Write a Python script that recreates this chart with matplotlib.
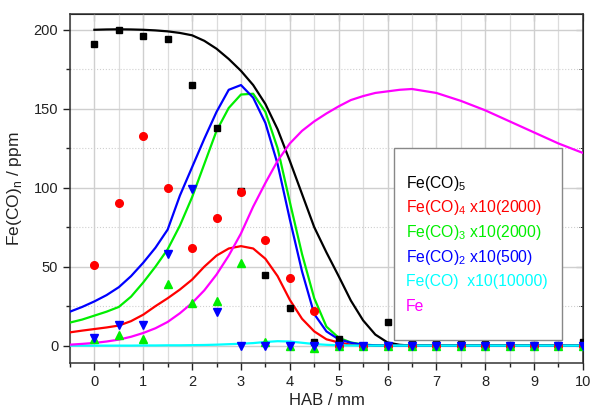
import numpy as np
import matplotlib
matplotlib.use("Agg")
import matplotlib.pyplot as plt
from matplotlib.patches import Rectangle
from matplotlib.ticker import MultipleLocator

plt.rcParams['font.family'] = ['Liberation Sans', 'DejaVu Sans']
plt.rcParams['mathtext.fontset'] = 'custom'
plt.rcParams['mathtext.rm'] = 'Liberation Sans'

# measured points (HAB in mm)
x_pts = [0, 0.5, 1, 1.5, 2, 2.5, 3, 3.5, 4, 4.5, 5, 5.5, 6, 6.5, 7, 7.5, 8, 8.5, 9, 9.5, 10]
fe5_pts = [191, 200, 196, 194, 165, 138, 98, 45, 24, 2, 4, 0, 15, 2, 2, 1, 1, 0.5, 0.5, 0.5, 2]
fe4_pts = [51, 90, 133, 100, 62, 81, 97, 67, 43, 22, 0, 0, 0, 0, 0, 0, 0, 0, 0, 0, 0]
fe3_pts = [4, 7, 4.5, 39, 27, 28, 52, 2, 0, -1.5, 0, 0, 0, 0, 0, 0, 0, 0, 0, 0, 0]
fe2_pts = [5, 13, 13, 58, 99, 21, 0, 0, 0, 0, 0, 0, 0, 0, 0, 0, 0, 0, 0, 0, 0]

# simulated curves
x_sim = [-0.5, -0.25, 0, 0.25, 0.5, 0.75, 1, 1.25, 1.5, 1.75, 2, 2.25, 2.5, 2.75, 3,
         3.25, 3.5, 3.75, 4, 4.25, 4.5, 4.75, 5, 5.25, 5.5, 5.75, 6, 6.25, 6.5,
         7, 7.5, 8, 8.5, 9, 9.5, 10]
fe5_sim = [np.nan, np.nan, 200, 200.2, 200.3, 200.2, 200, 199.6, 199, 198, 196.5, 193, 188, 181.5, 174,
           165, 153, 137, 117, 96, 75, 59, 44, 28.5, 16, 7, 2, 0.5, 0,
           0, 0, 0, 0, 0, 0, 0]
fe4_sim = [8.4, 9.5, 10.5, 11.5, 12.7, 15.5, 19.6, 25, 30, 35.5, 41.8, 50, 57, 61.5, 63,
           61.5, 55, 44, 29, 17, 9, 4, 2, 0.6, 0.2, 0, 0, 0, 0,
           0, 0, 0, 0, 0, 0, 0]
fe3_sim = [14.6, 16.5, 19, 21.5, 24.5, 31, 40, 50, 61, 76, 94, 115, 136, 150.5, 159,
           159.5, 148, 125, 91, 58, 30, 12, 5, 2, 0.7, 0.2, 0, 0, 0,
           0, 0, 0, 0, 0, 0, 0]
fe2_sim = [21.5, 24.5, 28, 32, 37, 44, 52.5, 62, 73.5, 95, 113, 131, 148, 162, 165,
           157, 141, 115, 80, 47, 20, 9, 4, 1.8, 0.5, 0.1, 0, 0, 0,
           0, 0, 0, 0, 0, 0, 0]
fe1_sim = [0, 0, 0, 0, 0, 0, 0.1, 0.1, 0.2, 0.2, 0.3, 0.4, 0.6, 0.9, 1.2,
           1.6, 2.3, 2.8, 2.6, 1.8, 1.0, 0.5, 0.2, 0.1, 0, 0, 0, 0, 0,
           0, 0, 0, 0, 0, 0, 0]
fe_sim = [0.6, 1.1, 1.7, 2.6, 3.8, 5.6, 8, 11, 15, 20.5, 27, 35, 45, 57, 71,
          88, 103, 117, 128, 136, 142, 147, 151.5, 155.5, 158, 160, 161, 162, 162.5,
          160, 155, 149, 142, 135, 128, 122]

labels = ['Fe(CO)$_\\mathregular{5}$',
          'Fe(CO)$_\\mathregular{4}$ x10(2000)',
          'Fe(CO)$_\\mathregular{3}$ x10(2000)',
          'Fe(CO)$_\\mathregular{2}$ x10(500)',
          'Fe(CO)  x10(10000)',
          'Fe']
colors = ['black', '#ff0000', '#00ee00', '#0000ff', '#00ffff', '#ff00ff']

fig = plt.figure(figsize=(5.9, 4.09), dpi=100)
ax = fig.add_axes([0.1186, 0.1125, 0.8694, 0.8533])

for ys, c in zip([fe5_sim, fe4_sim, fe3_sim, fe2_sim, fe1_sim, fe_sim], colors):
    ax.plot(x_sim, ys, color=c, lw=1.6, zorder=3)

ax.plot(x_pts, fe5_pts, 's', color='black', ms=5, zorder=4)
ax.plot(x_pts, fe4_pts, 'o', color='#ff0000', ms=5.5, zorder=4)
ax.plot(x_pts, fe3_pts, '^', color='#00ee00', ms=6, zorder=4)
ax.plot(x_pts, fe2_pts, 'v', color='#0000ff', ms=6, zorder=4)

ax.set_xlim(-0.5, 10)
ax.set_ylim(-11, 210)
ax.xaxis.set_major_locator(MultipleLocator(1))
ax.xaxis.set_minor_locator(MultipleLocator(0.5))
ax.yaxis.set_major_locator(MultipleLocator(50))
ax.yaxis.set_minor_locator(MultipleLocator(25))

ax.grid(which='major', color='#cfcfcf', lw=1.0, zorder=0)
ax.grid(which='minor', axis='x', color='#dcdcdc', lw=0.9, zorder=0)
ax.grid(which='minor', axis='y', color='#d0d0d0', lw=0.8, ls=':', zorder=0)
ax.set_axisbelow(True)

ax.tick_params(which='both', direction='out', labelsize=10.5, colors='#222222', width=1)
ax.tick_params(which='major', length=5)
ax.tick_params(which='minor', length=3)
for s in ax.spines.values():
    s.set_linewidth(1.1)
    s.set_color('#333333')

top = ax.secondary_xaxis('top')
top.xaxis.set_major_locator(MultipleLocator(1))
top.xaxis.set_minor_locator(MultipleLocator(0.5))
top.tick_params(which='both', direction='in', labeltop=False)
top.tick_params(which='major', length=5)
top.tick_params(which='minor', length=3)
right = ax.secondary_yaxis('right')
right.yaxis.set_major_locator(MultipleLocator(50))
right.yaxis.set_minor_locator(MultipleLocator(25))
right.tick_params(which='both', direction='in', labelright=False)
right.tick_params(which='major', length=5)
right.tick_params(which='minor', length=3)

ax.set_xlabel('HAB / mm', fontsize=12, color='#222222', labelpad=3)
ax.set_ylabel('Fe(CO)$_\\mathregular{n}$ / ppm', fontsize=12.5, color='#222222', labelpad=7)

# legend box with coloured text only
ax.add_patch(Rectangle((0.632, 0.066), 0.327, 0.55, transform=ax.transAxes,
                       facecolor='white', edgecolor='#888888', lw=1, zorder=5))
for i, (lab, c) in enumerate(zip(labels, colors)):
    ax.text(0.655, 0.515 - i * 0.0705, lab, color=c, fontsize=11.3,
            transform=ax.transAxes, va='center', zorder=6)

fig.savefig('out.png', dpi=100)
